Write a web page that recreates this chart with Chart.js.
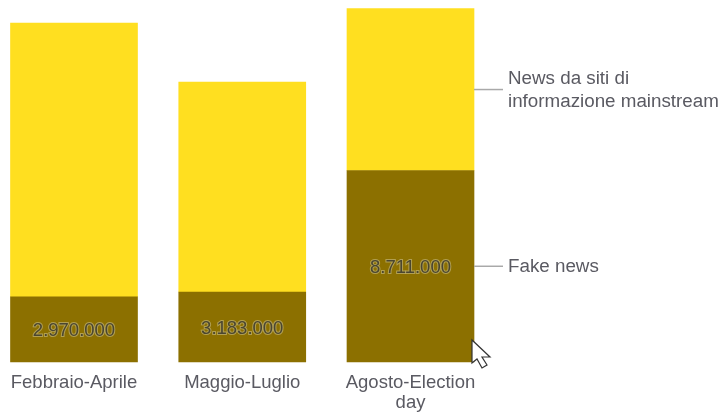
<!DOCTYPE html>
<html lang="it">
<head>
<meta charset="utf-8">
<title>Fake news e news mainstream</title>
<script src="https://cdn.jsdelivr.net/npm/chart.js@4"></script>
<style>
  html, body { margin: 0; padding: 0; background: #fff; }
  canvas { display: block; }
</style>
</head>
<body>
<canvas id="myChart" width="721" height="414"></canvas>
<script>
//data
const categories = ["Febbraio-Aprile", "Maggio-Luglio", ["Agosto-Election", "day"]];
const fakeNews = [2970000, 3183000, 8711000];
const mainstreamNews = [12450000, 9555000, 7370000];
const seriesNames = [["Fake news"], ["News da siti di", "informazione mainstream"]];

const FONT = '"Liberation Sans", Arial, sans-serif';
const TEXT = "#5a5a62";

//thousands separated with dots, italian style
const formatValue = (v) => String(v).replace(/\B(?=(\d{3})+$)/g, ".");

//value labels inside the dark segments
const valueLabels = {
  id: "valueLabels",
  afterDatasetsDraw(chart) {
    const ctx = chart.ctx;
    ctx.save();
    ctx.font = "18.5px " + FONT;
    ctx.textAlign = "center";
    ctx.textBaseline = "middle";
    chart.getDatasetMeta(0).data.forEach((bar, i) => {
      const y = (bar.y + bar.base) / 2 + 2;
      const text = formatValue(fakeNews[i]);
      ctx.lineWidth = 2;
      ctx.strokeStyle = "rgba(190,175,110,0.75)";
      ctx.strokeText(text, bar.x, y);
      ctx.fillStyle = "#4a4630";
      ctx.fillText(text, bar.x, y);
    });
    ctx.restore();
  },
};

//series names next to the last column, joined by a short line
const seriesLabels = {
  id: "seriesLabels",
  afterDatasetsDraw(chart) {
    const ctx = chart.ctx;
    ctx.save();
    ctx.font = "18.8px " + FONT;
    ctx.textAlign = "left";
    ctx.textBaseline = "middle";
    seriesNames.forEach((lines, d) => {
      const meta = chart.getDatasetMeta(d);
      const bar = meta.data[meta.data.length - 1];
      const right = bar.x + bar.width / 2;
      const y = (bar.y + bar.base) / 2;
      ctx.strokeStyle = "#a9a9a9";
      ctx.lineWidth = 1.5;
      ctx.beginPath();
      ctx.moveTo(right, y);
      ctx.lineTo(right + 29, y);
      ctx.stroke();
      ctx.fillStyle = TEXT;
      lines.forEach((line, l) => {
        ctx.fillText(line, right + 34, y + 1 + (l - (lines.length - 1) / 2) * 23);
      });
    });
    ctx.restore();
  },
};

//mouse pointer resting on the corner of the last column
const pointer = {
  id: "pointer",
  afterDraw(chart) {
    const meta = chart.getDatasetMeta(0);
    const bar = meta.data[meta.data.length - 1];
    const x = bar.x + bar.width / 2 - 2;
    const y = bar.base - 22;
    const shape = [[0, 0], [0, 23], [5, 19], [10, 28], [15, 25], [10, 17], [18, 17]];
    const ctx = chart.ctx;
    ctx.save();
    ctx.beginPath();
    shape.forEach(([dx, dy], i) => {
      if (i === 0) ctx.moveTo(x + dx, y + dy);
      else ctx.lineTo(x + dx, y + dy);
    });
    ctx.closePath();
    ctx.fillStyle = "#fff";
    ctx.fill();
    ctx.strokeStyle = "#333";
    ctx.lineWidth = 1.2;
    ctx.stroke();
    ctx.restore();
  },
};

//setup
const data = {
  labels: categories,
  datasets: [
    { label: seriesNames[0].join(" "), data: fakeNews, backgroundColor: "#8c7000" },
    { label: seriesNames[1].join(" "), data: mainstreamNews, backgroundColor: "#ffdf20" },
  ],
};

//options block
const options = {
  responsive: false,
  animation: false,
  layout: { padding: { left: 74, right: 310.5, top: 0, bottom: 0 } },
  datasets: { bar: { barThickness: 127, clip: false } },
  plugins: {
    legend: { display: false },
    tooltip: { enabled: false },
  },
  scales: {
    x: {
      stacked: true,
      offset: false,
      grid: { display: false },
      border: { display: false },
      afterFit(scale) { scale.height = 52; },
      ticks: {
        color: TEXT,
        autoSkip: false,
        maxRotation: 0,
        padding: 3,
        font: { family: FONT, size: 18.5, lineHeight: 1.08 },
      },
    },
    y: {
      stacked: true,
      display: false,
      min: 0,
      max: 16470000,
    },
  },
};

//config
const config = {
  type: "bar",
  data,
  options,
  plugins: [valueLabels, seriesLabels, pointer],
};

//render
const myChart = new Chart(document.getElementById("myChart"), config);
</script>
</body>
</html>
